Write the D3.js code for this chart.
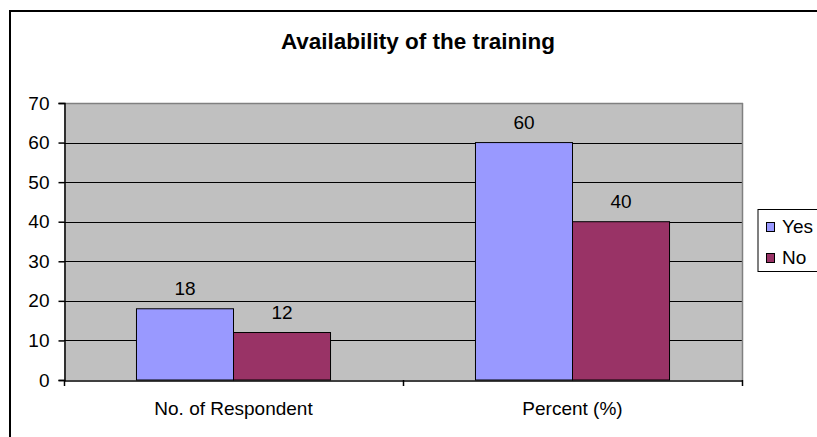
<!DOCTYPE html>
<html>
<head>
<meta charset="utf-8">
<script src="https://cdn.jsdelivr.net/npm/d3@7"></script>
<style>
  html, body { margin: 0; padding: 0; background: #fff; }
  svg { display: block; }
  text { font-family: "Liberation Sans", Arial, sans-serif; fill: #000; }
</style>
</head>
<body>
<script>
// ---- data ----
const title = "Availability of the training";
const categories = ["No. of Respondent", "Percent (%)"];
const seriesNames = ["Yes", "No"];
const yesValues = [18, 60];
const noValues = [12, 40];
const yTicks = [0, 10, 20, 30, 40, 50, 60, 70];
const seriesColors = ["#9999FF", "#993366"];

const W = 817, H = 437;
const svg = d3.select("body").append("svg").attr("width", W).attr("height", H);

// outer chart border
svg.append("rect").attr("x", 10).attr("y", 11).attr("width", 830).attr("height", 450)
  .attr("fill", "#fff").attr("stroke", "#000").attr("stroke-width", 2);

const plot = { left: 64, right: 742, top: 103, bottom: 380 };

const y = d3.scaleLinear().domain([0, 70]).range([plot.bottom, plot.top]);
const x0 = d3.scaleBand().domain(categories).range([plot.left, plot.right]).paddingInner(0).paddingOuter(0);
const x1 = d3.scaleBand().domain(seriesNames).range([0, x0.bandwidth()]).paddingInner(0).paddingOuter(0.747);
const color = d3.scaleOrdinal().domain(seriesNames).range(seriesColors);

// plot background
svg.append("rect").attr("x", plot.left).attr("y", plot.top)
  .attr("width", plot.right - plot.left).attr("height", plot.bottom - plot.top)
  .attr("fill", "#C0C0C0");

// gridlines
svg.append("g").selectAll("line").data(yTicks.filter(d => d > 0 && d < 70)).join("line")
  .attr("x1", plot.left).attr("x2", plot.right)
  .attr("y1", d => Math.round(y(d)) + 0.5).attr("y2", d => Math.round(y(d)) + 0.5)
  .attr("stroke", "#000").attr("stroke-width", 1);

// top and right plot border (gray)
svg.append("line").attr("x1", plot.left).attr("x2", plot.right + 1)
  .attr("y1", plot.top + 0.5).attr("y2", plot.top + 0.5).attr("stroke", "#808080").attr("stroke-width", 1.5);
svg.append("line").attr("x1", plot.right + 0.5).attr("x2", plot.right + 0.5)
  .attr("y1", plot.top).attr("y2", plot.bottom).attr("stroke", "#808080").attr("stroke-width", 1.5);

// bars
const rows = categories.map((c, i) => ({ cat: c, vals: [
  { s: "Yes", v: yesValues[i] }, { s: "No", v: noValues[i] } ] }));

const groups = svg.append("g").selectAll("g").data(rows).join("g")
  .attr("transform", d => `translate(${x0(d.cat)},0)`);

groups.selectAll("rect").data(d => d.vals).join("rect")
  .attr("x", d => x1(d.s)).attr("y", d => y(d.v))
  .attr("width", x1.bandwidth()).attr("height", d => y(0) - y(d.v))
  .attr("fill", d => color(d.s)).attr("stroke", "#000").attr("stroke-width", 1);

groups.selectAll("text").data(d => d.vals).join("text")
  .attr("x", d => x1(d.s) + x1.bandwidth() / 2).attr("y", d => y(d.v) - 14)
  .attr("text-anchor", "middle").attr("font-size", 19)
  .text(d => d.v);

// y axis
const yAxis = d3.axisLeft(y).tickValues(yTicks).tickSize(6).tickPadding(9);
const gy = svg.append("g").attr("transform", `translate(${plot.left + 0.5},0)`).call(yAxis);
gy.select(".domain").attr("stroke", "#000").attr("stroke-width", 1.5);
gy.selectAll(".tick line").attr("stroke", "#000").attr("stroke-width", 1.5);
gy.selectAll(".tick text").attr("font-size", 19).attr("font-family", "Liberation Sans, Arial, sans-serif").attr("fill", "#000");

// x axis
const xAxis = d3.axisBottom(x0).tickSize(0).tickPadding(21);
const gx = svg.append("g").attr("transform", `translate(0,${plot.bottom + 0.5})`).call(xAxis);
gx.select(".domain").attr("stroke", "#000").attr("stroke-width", 1.5);
gx.selectAll(".tick text").attr("font-size", 19).attr("font-family", "Liberation Sans, Arial, sans-serif").attr("fill", "#000");
// category boundary ticks
const bounds = [plot.left, x0(categories[1]), plot.right];
svg.append("g").selectAll("line").data(bounds).join("line")
  .attr("x1", d => d + 0.5).attr("x2", d => d + 0.5)
  .attr("y1", plot.bottom).attr("y2", plot.bottom + 6)
  .attr("stroke", "#000").attr("stroke-width", 1.5);

// title
svg.append("text").attr("x", 418).attr("y", 49).attr("text-anchor", "middle")
  .attr("font-size", 22.5).attr("font-weight", "bold").text(title);

// legend
const lg = svg.append("g");
lg.append("rect").attr("x", 758).attr("y", 209.5).attr("width", 80).attr("height", 62)
  .attr("fill", "#fff").attr("stroke", "#000").attr("stroke-width", 1);
const items = lg.selectAll("g").data(seriesNames).join("g")
  .attr("transform", (d, i) => `translate(766,${222 + i * 31})`);
items.append("rect").attr("x", 0.5).attr("y", 0.5).attr("width", 8).attr("height", 9)
  .attr("fill", d => color(d)).attr("stroke", "#000").attr("stroke-width", 1);
items.append("text").attr("x", 16).attr("y", 11).attr("font-size", 19).text(d => d);
</script>
</body>
</html>
